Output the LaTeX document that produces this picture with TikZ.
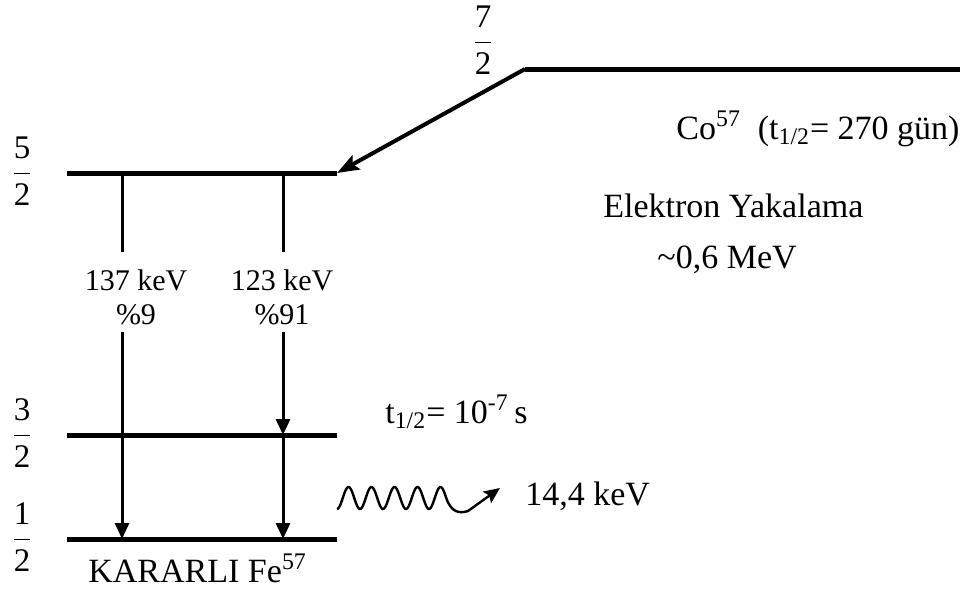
\documentclass[tikz,border=0pt]{standalone}
\usepackage{fontspec}
\setmainfont{Liberation Serif}
\usetikzlibrary{arrows.meta,positioning,calc}
\tikzset{
 level/.style={line width=2.5pt},
 trans/.style={line width=1.5pt},
 transarr/.style={trans,-{Triangle[length=8pt,width=7pt]}},
 feed/.style={line width=2pt,-{Stealth[length=11pt,width=8pt,inset=2pt]}},
 wave/.style={line width=1.2pt,-{Stealth[length=8pt,width=7pt,inset=1.5pt]}},
 lbl/.style={font=\fontsize{17}{20}\selectfont,inner sep=0pt},
 elbl/.style={font=\fontsize{15}{17}\selectfont,align=center,inner sep=0pt},
 spin/.style={font=\fontsize{16.5}{19}\selectfont,inner sep=0pt,anchor=base}
}
\newcommand\spinfrac[1]{$\displaystyle\frac{\mbox{#1}}{\mbox{2}}$}

\begin{document}
\begin{tikzpicture}[x=0.5pt,y=-0.5pt]
\useasboundingbox (0,0) rectangle (971,590);
% levels
\coordinate (c7a) at (525,69); \coordinate (c7b) at (960,69);
\coordinate (c5a) at (67,173); \coordinate (c5b) at (337,173);
\coordinate (c3a) at (67,435); \coordinate (c3b) at (337,435);
\coordinate (c1a) at (67,539); \coordinate (c1b) at (337,539);
\foreach \s in {7,5,3,1} \draw[level] (c\s a)--(c\s b);
\node[spin] (s7) at (483,51) {\spinfrac{7}};
\node[spin] (s5) at (22,182) {\spinfrac{5}};
\node[spin] (s3) at (22,444) {\spinfrac{3}};
\node[spin] (s1) at (22,548) {\spinfrac{1}};
% electron capture
\draw[feed] (c7a)--(c5b);
\node[lbl,anchor=base east] (co) at (960,139) {Co\textsuperscript{57}\ \ (t\textsubscript{1/2}= 270 gün)};
\node[lbl,anchor=base west] (ey) at (603,217) {Elektron Yakalama};
\node[lbl,anchor=base west] (mev) at (657,268) {\textasciitilde0,6 MeV};
% gamma transitions
\coordinate (t1) at (122,173); \coordinate (t2) at (283,173);
\node[elbl,anchor=north] (e137) at (136,269) {137 keV\\\%9};
\node[elbl,anchor=north] (e123) at (282,269) {123 keV\\\%91};
\draw[trans] (t1)--($(t1 |- e137.north)+(0,-17)$);
\draw[trans] (t2)--($(t2 |- e123.north)+(0,-17)$);
\draw[transarr] ($(t1 |- e137.south)+(0,7)$)--(t1 |- c1a);
\draw[transarr] ($(t2 |- e123.south)+(0,7)$)--(t2 |- c3a);
\draw[transarr] (t2 |- c3a)--(t2 |- c1a);
\node[lbl,anchor=base west] (th) at (385,423) {t\textsubscript{1/2}= 10\textsuperscript{-7}\,s};
\coordinate (w1) at (500,488);
\draw[wave] plot[domain=0:4.75,samples=120,smooth] ({337+23*\x},{498+11*cos(360*\x)})
  .. controls (451,512) and (459,514) .. (468,511) -- (w1);
\node[lbl,anchor=base west] (gam) at (525,505) {14,4 keV};
\node[lbl,anchor=base west] (fe) at (88,582) {KARARLI Fe\textsuperscript{57}};
\end{tikzpicture}
\end{document}
